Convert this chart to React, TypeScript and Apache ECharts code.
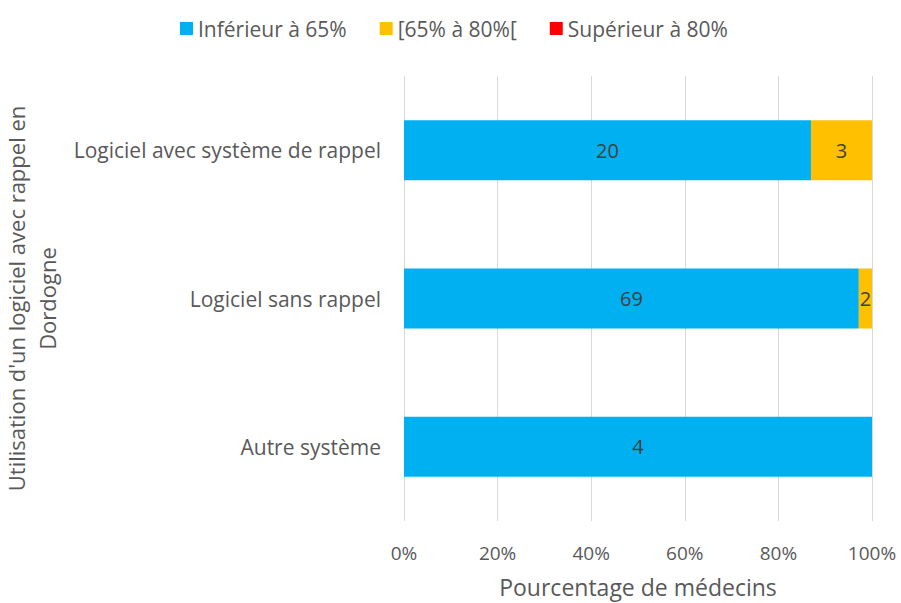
import React, { useEffect, useRef } from "react";
import * as echarts from "echarts";

const categories = ["Logiciel avec système de rappel", "Logiciel sans rappel", "Autre système"];
const seriesNames = ["Inférieur à 65%", "[65% à 80%[", "Supérieur à 80%"];
const countsLow = [20, 69, 4];
const countsMid = [3, 2, 0];
const countsHigh = [0, 0, 0];
const colors = ["#00B0F0", "#FFC000", "#FF0000"];

export default function App() {
  const ref = useRef<HTMLDivElement>(null);
  useEffect(() => {
    if (!ref.current) return;
    const chart = echarts.init(ref.current, null, { renderer: "svg" });
    const all = [countsLow, countsMid, countsHigh];
    const totals = categories.map((_, i) => all.reduce((s, a) => s + a[i], 0));
    const font = "'Open Sans', sans-serif";
    chart.setOption({
      animation: false,
      textStyle: { fontFamily: font },
      legend: {
        top: 13,
        left: 175,
        itemWidth: 13,
        itemHeight: 13,
        itemGap: 33,
        icon: "rect",
        textStyle: { fontSize: 21, color: "#595959", fontFamily: font },
        data: seriesNames,
      },
      grid: { left: 404, right: 29, top: 76, bottom: 82, containLabel: false, outerBoundsMode: "none" },
      xAxis: {
        type: "value",
        min: 0,
        max: 100,
        interval: 20,
        axisLine: { show: false },
        axisTick: { show: false },
        splitLine: { show: true, lineStyle: { color: "#D9D9D9", width: 1 } },
        axisLabel: { formatter: "{value}%", fontSize: 19, color: "#595959", margin: 22, fontFamily: font },
        name: "Pourcentage de médecins",
        nameLocation: "middle",
        nameGap: 54,
        nameTextStyle: { fontSize: 23, color: "#595959", fontFamily: font },
      },
      yAxis: {
        type: "category",
        inverse: true,
        data: categories,
        axisLine: { show: false },
        axisTick: { show: false },
        axisLabel: { fontSize: 21, color: "#595959", margin: 23, fontFamily: font },
        name: "Utilisation d'un logiciel avec rappel en\nDordogne",
        nameLocation: "middle",
        nameGap: 336,
        nameRotate: 90,
        nameTextStyle: { fontSize: 22, color: "#595959", fontFamily: font, lineHeight: 31, align: "center" },
      },
      series: all.map((arr, si) => ({
        name: seriesNames[si],
        type: "bar",
        stack: "total",
        barWidth: 60,
        itemStyle: { color: colors[si] },
        label: {
          show: true,
          position: "inside",
          fontSize: 20,
          color: "#404040",
          fontFamily: font,
          formatter: (p: any) => (arr[p.dataIndex] > 0 ? String(arr[p.dataIndex]) : ""),
        },
        data: arr.map((v, i) => (v / totals[i]) * 100),
      })),
    });
    return () => chart.dispose();
  }, []);
  return (
    <div
      ref={ref}
      style={{ position: "fixed", left: 0, top: 0, width: 901, height: 603, background: "#ffffff" }}
    />
  );
}
